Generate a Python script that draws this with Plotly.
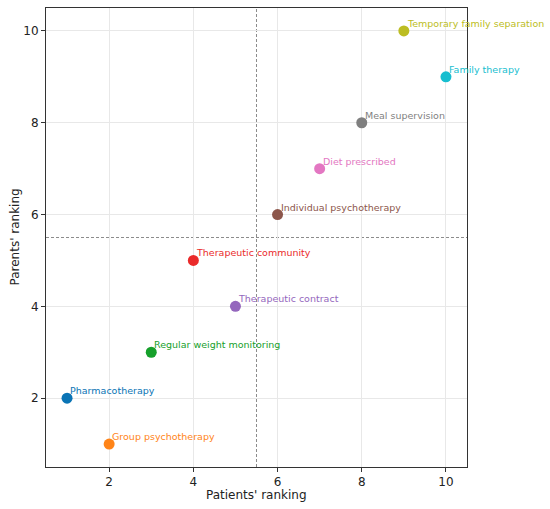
import plotly.graph_objects as go

treatments = ["Pharmacotherapy", "Group psychotherapy", "Regular weight monitoring",
              "Therapeutic community", "Therapeutic contract", "Individual psychotherapy",
              "Diet prescribed", "Meal supervision", "Temporary family separation",
              "Family therapy"]
patients_rank = [1, 2, 3, 4, 5, 6, 7, 8, 9, 10]
parents_rank = [2, 1, 3, 5, 4, 6, 7, 8, 10, 9]
colors = ["#0a74b5", "#ff8418", "#16a02b", "#ea2a2a", "#9467bd", "#8c564b",
          "#e377c2", "#7f7f7f", "#bcbd22", "#17becf"]
split_x = 5.5
split_y = 5.5

W, H = 550, 509
ML, MR, MT, MB = 46, 83, 8, 42

fig = go.Figure()
fig.add_trace(go.Scatter(
    x=patients_rank, y=parents_rank, mode="markers",
    marker=dict(color=colors, size=11, line=dict(width=0)),
    showlegend=False, hoverinfo="text", text=treatments,
))

annotations = []
for t, x, y, c in zip(treatments, patients_rank, parents_rank, colors):
    annotations.append(dict(x=x, y=y, xref="x", yref="y", text=t, showarrow=False,
                            xanchor="left", yanchor="bottom", xshift=1, yshift=0,
                            font=dict(family="DejaVu Sans", size=9.5, color=c)))

title_font = dict(family="DejaVu Sans", size=12, color="#222222")
annotations.append(dict(text="Patients' ranking", xref="paper", yref="paper",
                        x=0.5, y=-(495 - (H - MB)) / (H - MT - MB), xanchor="center",
                        yanchor="middle", showarrow=False, font=title_font))
annotations.append(dict(text="Parents' ranking", xref="paper", yref="paper",
                        x=-(ML - 14) / (W - ML - MR), y=0.5, xanchor="center",
                        yanchor="middle", showarrow=False, textangle=-90, font=title_font))

shapes = [
    dict(type="line", xref="x", yref="paper", x0=split_x, x1=split_x, y0=0, y1=1,
         line=dict(color="#8c8c8c", width=1, dash="3px,2px"), layer="below"),
    dict(type="line", xref="paper", yref="y", x0=0, x1=1, y0=split_y, y1=split_y,
         line=dict(color="#8c8c8c", width=1, dash="3px,2px"), layer="below"),
]

axis_common = dict(range=[0.5, 10.5], tickvals=[2, 4, 6, 8, 10], showgrid=True,
                   gridcolor="#e8e8e8", gridwidth=1, zeroline=False, showline=True,
                   linecolor="#333333", linewidth=1, mirror=True, ticks="outside",
                   ticklen=4, tickcolor="#333333", automargin=False,
                   tickfont=dict(family="DejaVu Sans", size=12, color="#222222"))

fig.update_layout(
    width=W, height=H,
    margin=dict(l=ML, r=MR, t=MT, b=MB),
    plot_bgcolor="white", paper_bgcolor="white",
    xaxis=dict(**axis_common),
    yaxis=dict(**axis_common),
    shapes=shapes, annotations=annotations,
)

fig.write_html("out.html", config={"displayModeBar": False},
               post_script="document.body.style.margin='0';document.body.style.overflow='hidden';")
